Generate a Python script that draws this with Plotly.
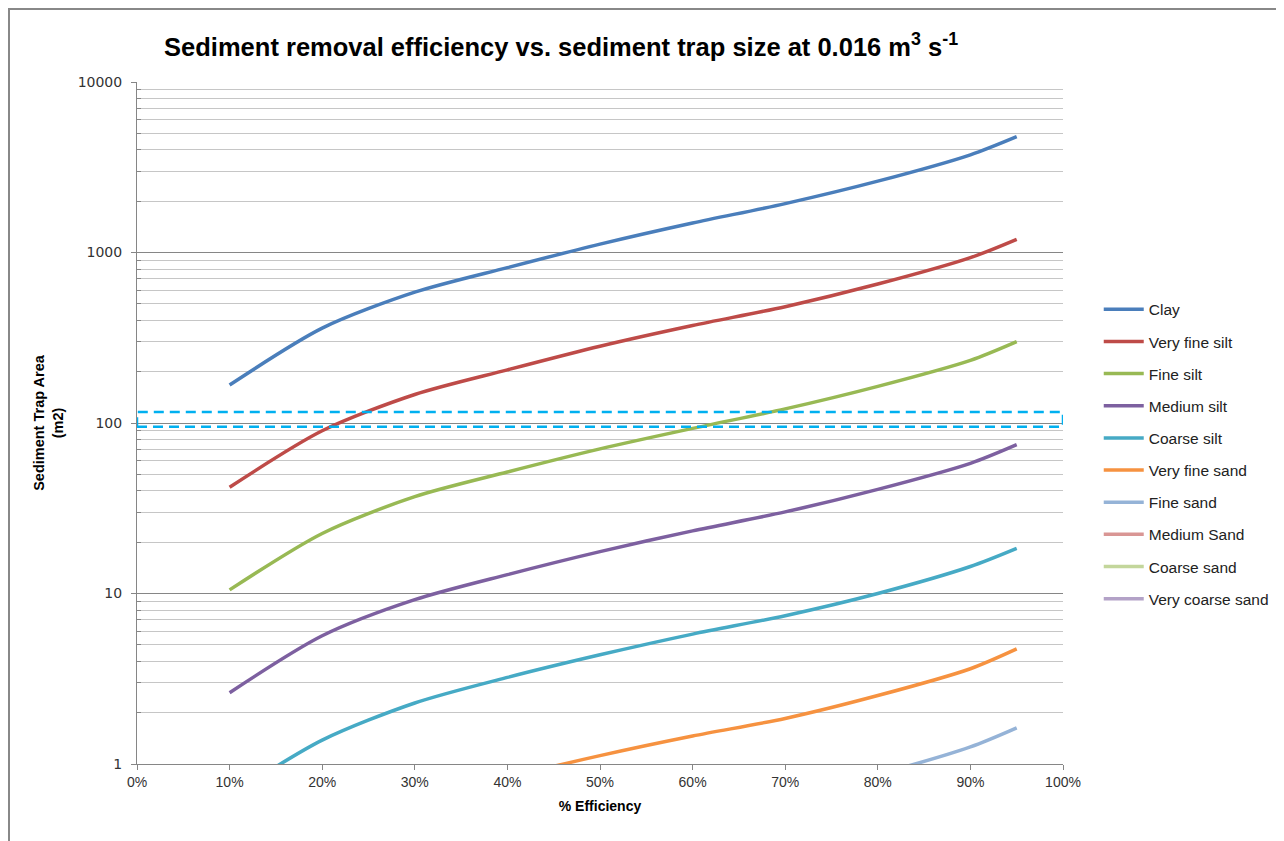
import plotly.graph_objects as go

efficiency = [0.10, 0.20, 0.30, 0.40, 0.50, 0.60, 0.70, 0.80, 0.90, 0.95]

series_names = ["Clay", "Very fine silt", "Fine silt", "Medium silt", "Coarse silt",
                "Very fine sand", "Fine sand", "Medium Sand", "Coarse sand", "Very coarse sand"]

clay = [167, 360, 585, 815, 1120, 1490, 1935, 2620, 3740, 4780]
very_fine_silt = [42, 90, 147, 205, 282, 373, 481, 653, 933, 1195]
fine_silt = [10.5, 22.5, 37, 51.6, 70.5, 93, 121, 164, 233, 300]
medium_silt = [2.62, 5.65, 9.2, 12.9, 17.6, 23.3, 30.1, 40.8, 58, 74.6]
coarse_silt = [0.65, 1.38, 2.28, 3.22, 4.37, 5.78, 7.41, 10.0, 14.4, 18.4]
very_fine_sand = [0.165, 0.35, 0.58, 0.83, 1.12, 1.46, 1.85, 2.52, 3.62, 4.73]
fine_sand = [0.057, 0.12, 0.2, 0.285, 0.385, 0.5, 0.64, 0.87, 1.26, 1.63]
medium_sand = [0.025, 0.053, 0.088, 0.125, 0.17, 0.22, 0.28, 0.38, 0.55, 0.71]
coarse_sand = [0.012, 0.026, 0.043, 0.06, 0.082, 0.107, 0.137, 0.186, 0.27, 0.35]
very_coarse_sand = [0.006, 0.013, 0.021, 0.03, 0.041, 0.053, 0.068, 0.093, 0.135, 0.17]

series_values = [clay, very_fine_silt, fine_silt, medium_silt, coarse_silt,
                 very_fine_sand, fine_sand, medium_sand, coarse_sand, very_coarse_sand]

colors = ["#4A7EBB", "#BE4B48", "#98B954", "#7D60A0", "#46AAC5",
          "#F69240", "#95B3D7", "#D99694", "#C3D69B", "#B3A2C7"]

target_band = [95, 116]  # dashed highlight band (m2)

y_major = [1, 10, 100, 1000, 10000]
y_minor = [m * d for d in [1, 10, 100, 1000] for m in range(2, 10)]

fig = go.Figure()
for i, (name, vals) in enumerate(zip(series_names, series_values)):
    fig.add_trace(go.Scatter(
        x=efficiency, y=vals, name=name, mode="lines",
        line=dict(color=colors[i], width=3.5, shape="spline", smoothing=0.8),
        legendgroup=name,
    ))

narrow = "Liberation Sans Narrow, Liberation Sans, Arial, sans-serif"

W, H = 1276, 833
ML, MR, MT, MB = 129, 221, 74, 77
PW, PH = W - ML - MR, H - MT - MB

fig.update_layout(
    width=W, height=H,
    margin=dict(l=ML, r=MR, t=MT, b=MB, autoexpand=False),
    paper_bgcolor="white", plot_bgcolor="white",
    title=dict(
        text="Sediment removal efficiency vs. sediment trap size at 0.016 m<sup>3</sup> s<sup>-1</sup>",
        font=dict(family=narrow, size=25.5, color="black", weight="bold"),
        x=0.458, xanchor="center", xref="paper", y=0.953, yanchor="middle",
    ),
    showlegend=True,
    legend=dict(
        x=1.0386, y=0.691, xanchor="left", yanchor="top",
        font=dict(family=narrow, size=15.5, color="#222222"),
        tracegroupgap=9.0, itemwidth=40,
        bgcolor="rgba(0,0,0,0)",
    ),
    xaxis=dict(
        range=[0, 1], tickvals=[i / 10 for i in range(11)], tickformat=".0%",
        showgrid=False, showline=True, linecolor="#868686", linewidth=1,
        ticks="outside", ticklen=5, tickcolor="#868686",
        tickfont=dict(family=narrow, size=14, color="#333333"),
        title=dict(text="% Efficiency", font=dict(family=narrow, size=14, color="black", weight="bold"), standoff=12),
        zeroline=False,
    ),
    yaxis=dict(
        type="log", range=[0, 4], tickvals=y_major, ticktext=[str(v) for v in y_major],
        showgrid=True, gridcolor="#868686", gridwidth=1,
        showline=True, linecolor="#868686", linewidth=1,
        ticks="outside", ticklen=5, tickcolor="#868686",
        ticklabelstandoff=6,
        tickfont=dict(family="DejaVu Sans, Verdana, sans-serif", size=14, color="#333333"),
        title=dict(text="Sediment Trap Area<br>(m2)", font=dict(family=narrow, size=14.5, color="black", weight="bold"), standoff=10),
        minor=dict(tickvals=y_minor, showgrid=True, gridcolor="#C6C6C6", gridwidth=1,
                   ticks="inside", ticklen=4, tickcolor="#868686"),
        zeroline=False,
    ),
)

fig.add_shape(type="rect", xref="x", yref="y", x0=0, x1=1, y0=target_band[0], y1=target_band[1],
              line=dict(color="#00B0F0", width=2.5, dash="10px,6px"), fillcolor="rgba(0,0,0,0)")

# outer chart border (top and left edges visible, the rest runs off the page)
fig.add_shape(type="rect", xref="paper", yref="paper",
              x0=(1 - ML) / PW, x1=(W + 20 - ML) / PW,
              y0=-(MB + 20) / PH, y1=(PH + MT - 1) / PH,
              line=dict(color="#888888", width=2), fillcolor="rgba(0,0,0,0)", layer="below")

fig.write_html("out.html")
